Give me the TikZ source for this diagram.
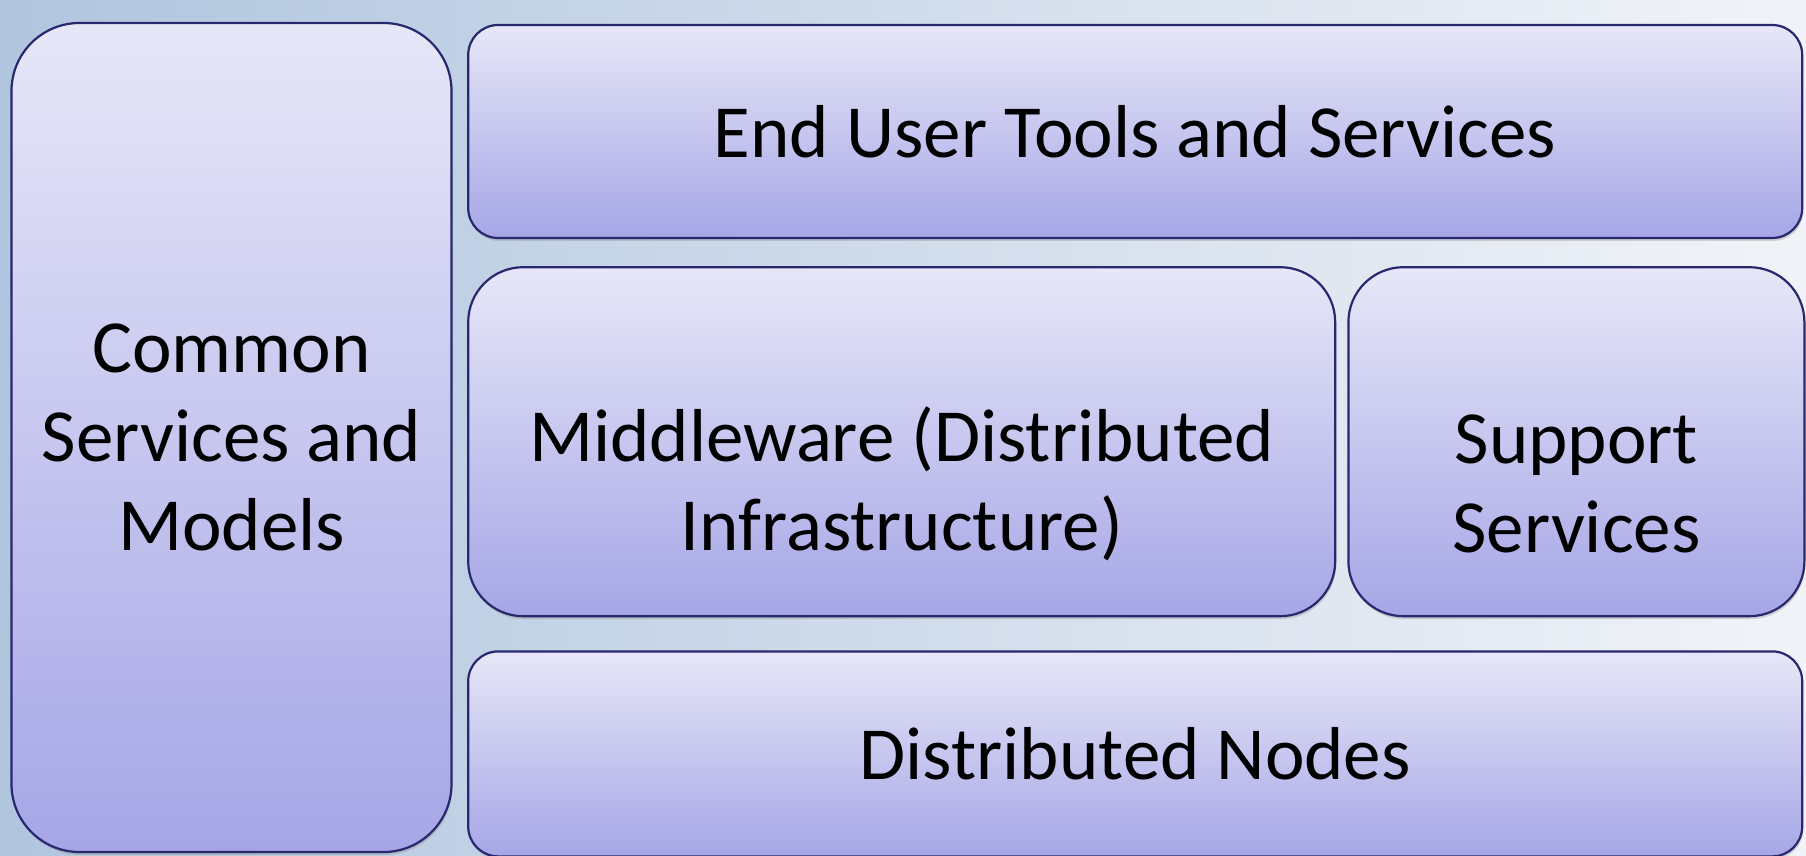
\documentclass[tikz,border=0pt]{standalone}
\usepackage{fontspec}
\setmainfont{Carlito}
\usetikzlibrary{positioning,shadows}
\definecolor{bgleft}{RGB}{176,197,222}
\definecolor{bgright}{RGB}{241,243,248}
\definecolor{boxtop}{RGB}{231,231,248}
\definecolor{boxbot}{RGB}{166,166,231}
\definecolor{boxline}{RGB}{40,40,110}

\begin{document}
\begin{tikzpicture}[x=1pt,y=1pt,
	layer/.style={draw=boxline,line width=2.2pt,top color=boxtop,bottom color=boxbot,
		align=center,inner sep=0pt,font=\fontsize{75}{89}\selectfont,
		drop shadow={opacity=0.3,shadow xshift=1pt,shadow yshift=-3pt}},
	lowtext/.style={align=center,inner sep=0pt,font=\fontsize{75}{89}\selectfont,yshift=-42pt}]
	\shade[left color=bgleft,right color=bgright] (0,0) rectangle (1806,855);
	\useasboundingbox (0,0) rectangle (1806,855);
	\node[layer,minimum width=440pt,minimum height=829pt,rounded corners=68pt] (common) at (231.5,417.5)
		{Common\\Services and\\Models};
	\node[layer,minimum width=1334pt,minimum height=213pt,rounded corners=30pt,
		below right=2pt and 14.5pt of common.north east] (enduser) {End User Tools and Services};
	\node[layer,minimum width=867pt,minimum height=349pt,rounded corners=55pt,
		below right=27pt and 0pt of enduser.south west,
		label={[lowtext]center:Middleware (Distributed\\Infrastructure)}] (middleware) {};
	\node[layer,minimum width=456pt,minimum height=349pt,rounded corners=55pt,
		right=11pt of middleware,
		label={[lowtext]center:Support\\Services}] (support) {};
	\node[layer,minimum width=1334pt,minimum height=205pt,rounded corners=30pt,
		below right=33pt and 0pt of middleware.south west] (distnodes) {Distributed Nodes};
\end{tikzpicture}
\end{document}
